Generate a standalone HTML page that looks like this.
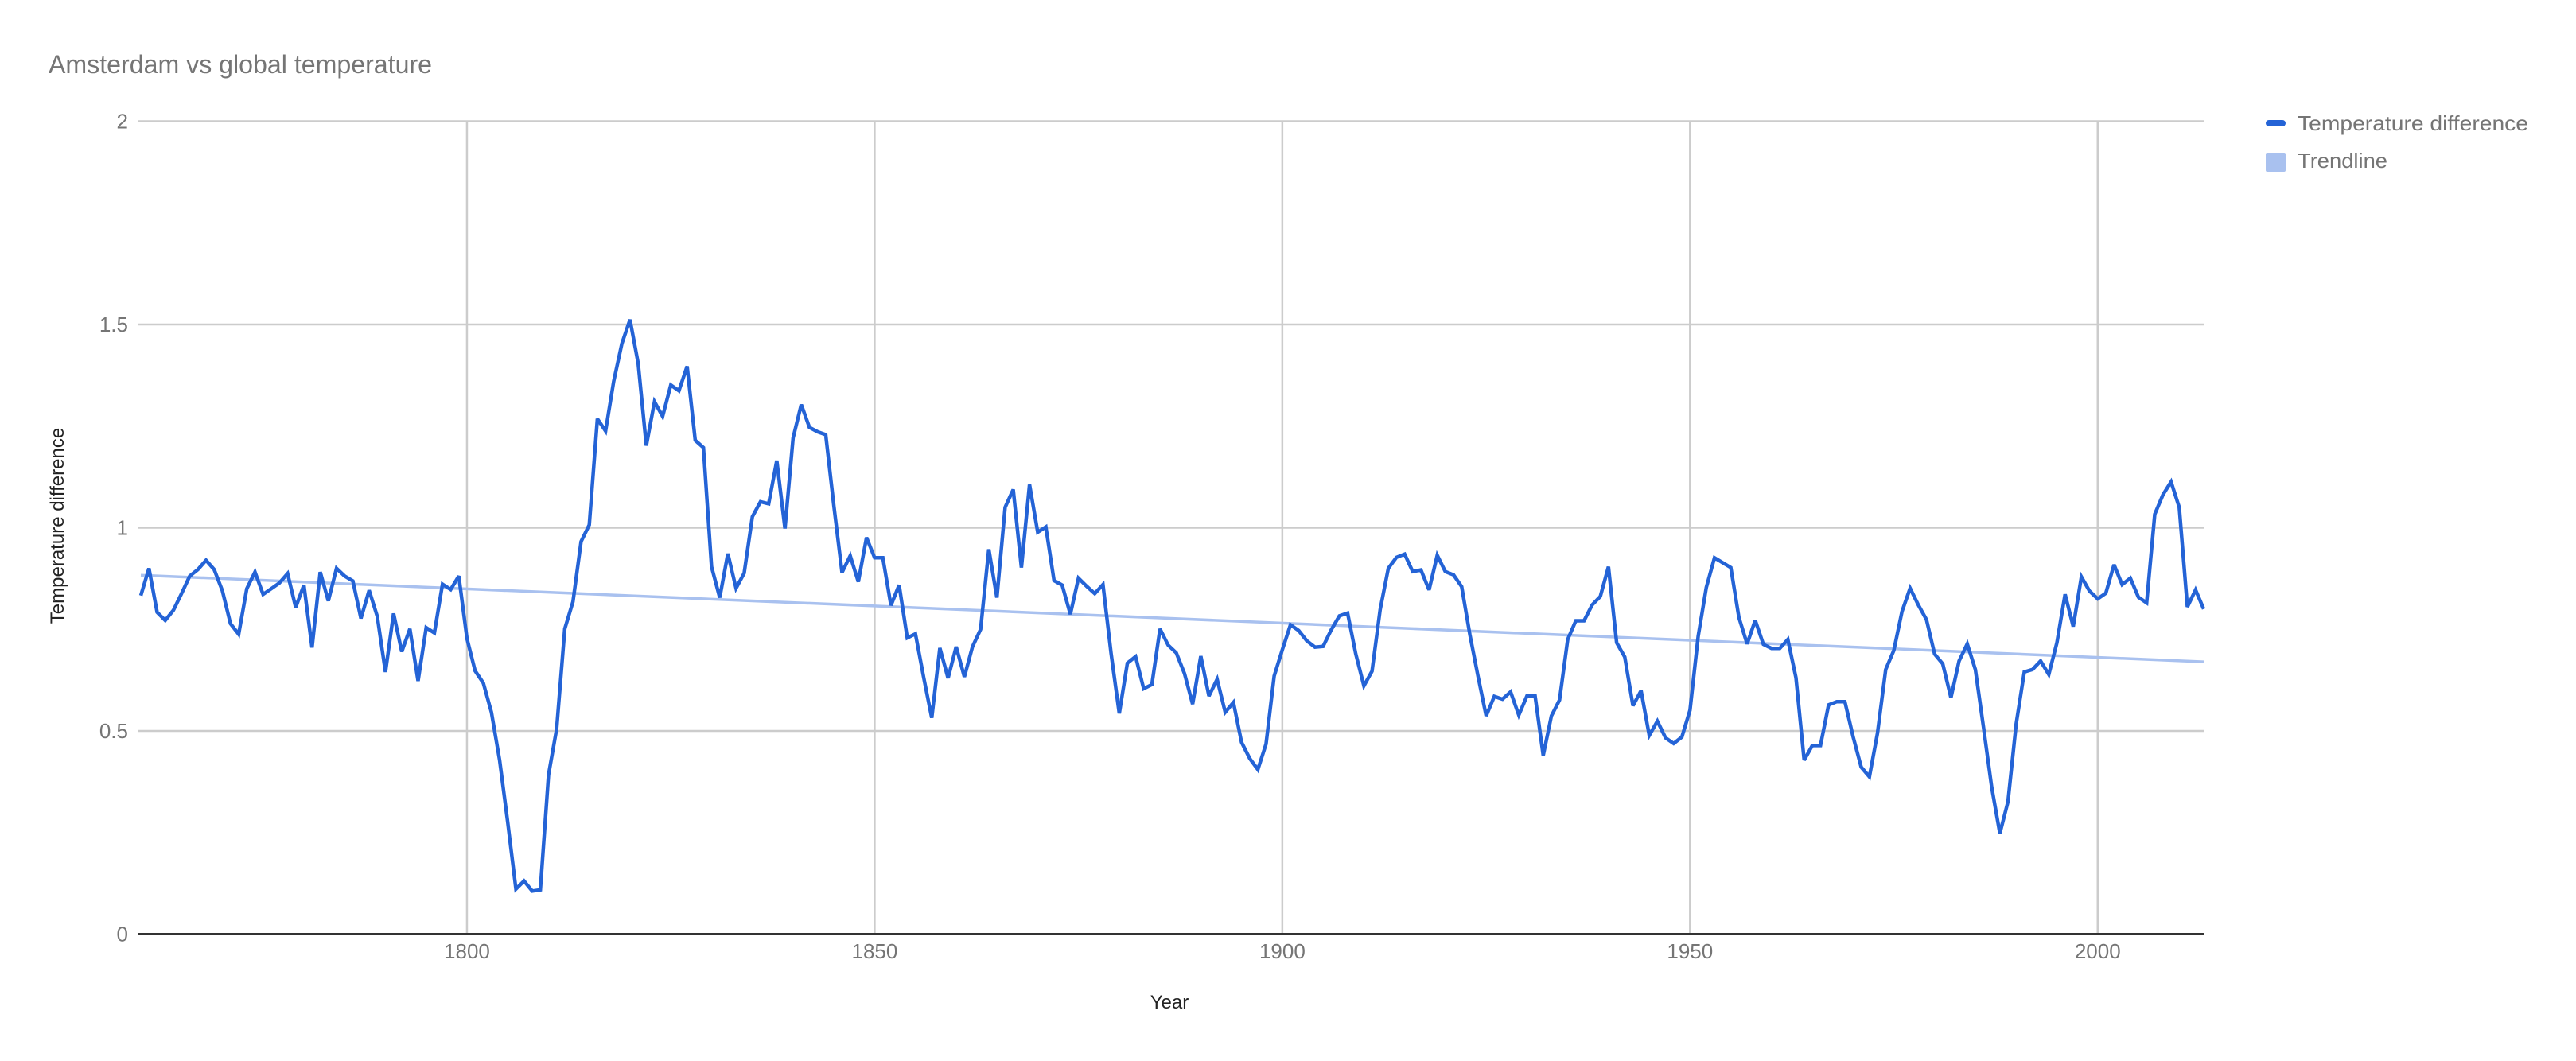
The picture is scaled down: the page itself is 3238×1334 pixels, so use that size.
<!DOCTYPE html>
<html><head><meta charset="utf-8"><title>Amsterdam vs global temperature</title>
<style>html,body{margin:0;padding:0;background:#fff}svg{display:block}text{font-family:"Liberation Sans",sans-serif}</style>
</head><body>
<svg id="chart" width="3238" height="1334" viewBox="0 0 3238 1334" xmlns="http://www.w3.org/2000/svg">
<rect x="0" y="0" width="3238" height="1334" fill="#fff"/>
<text x="61" y="92" font-size="32" fill="#757575" textLength="482" lengthAdjust="spacingAndGlyphs">Amsterdam vs global temperature</text>
<g id="grid"></g>
<g id="ylabels"></g>
<g id="xlabels"></g>
<g id="series"></g>
<text x="1470" y="1268" font-size="24" fill="#222" text-anchor="middle">Year</text>
<text transform="translate(80,661) rotate(-90)" font-size="24" fill="#222" text-anchor="middle">Temperature difference</text>
<g>
<g>
<rect x="2848" y="151" width="25" height="8" rx="4" fill="#2463d6"/>
<text x="2888" y="164" font-size="26" fill="#757575" textLength="290" lengthAdjust="spacingAndGlyphs">Temperature difference</text>
</g>
<g>
<rect x="2848" y="192" width="25" height="24" rx="2" fill="#a9c1ef"/>
<text x="2888" y="211" font-size="26" fill="#757575" textLength="113" lengthAdjust="spacingAndGlyphs">Trendline</text>
</g>
</g>
</svg>
<script>
const startYear = 1760;
const tempDiff = [
0.833,0.90,0.792,0.772,0.797,0.838,0.881,0.897,0.92,0.897,
0.845,0.764,0.738,0.85,0.891,0.836,0.85,0.864,0.887,0.804,
0.859,0.705,0.891,0.82,0.90,0.881,0.869,0.777,0.846,0.782,
0.645,0.789,0.695,0.751,0.623,0.754,0.741,0.861,0.848,0.881,
0.727,0.648,0.618,0.546,0.428,0.275,0.111,0.131,0.106,0.109,
0.392,0.505,0.751,0.818,0.966,1.007,1.268,1.238,1.36,1.453,
1.512,1.404,1.202,1.31,1.274,1.351,1.337,1.397,1.215,1.197,
0.904,0.828,0.936,0.851,0.888,1.027,1.064,1.059,1.165,0.998,
1.221,1.303,1.247,1.236,1.229,1.053,0.89,0.931,0.867,0.976,
0.926,0.926,0.809,0.859,0.729,0.739,0.633,0.532,0.704,0.63,
0.707,0.633,0.707,0.75,0.947,0.828,1.05,1.094,0.902,1.106,
0.989,1.002,0.87,0.859,0.787,0.876,0.856,0.838,0.86,0.691,
0.543,0.667,0.683,0.604,0.614,0.751,0.711,0.692,0.641,0.566,
0.684,0.586,0.627,0.546,0.57,0.472,0.432,0.405,0.468,0.635,
0.70,0.761,0.747,0.722,0.706,0.708,0.749,0.783,0.79,0.69,
0.611,0.647,0.798,0.90,0.927,0.935,0.892,0.896,0.847,0.932,
0.892,0.884,0.855,0.737,0.635,0.537,0.585,0.578,0.596,0.539,
0.586,0.586,0.44,0.537,0.576,0.725,0.771,0.771,0.81,0.831,
0.904,0.717,0.682,0.562,0.599,0.489,0.524,0.483,0.469,0.485,
0.551,0.733,0.853,0.926,0.914,0.902,0.779,0.714,0.772,0.713,
0.703,0.703,0.725,0.631,0.428,0.464,0.464,0.564,0.572,0.572,
0.486,0.411,0.387,0.495,0.651,0.698,0.794,0.851,0.81,0.774,
0.689,0.665,0.582,0.672,0.714,0.651,0.508,0.362,0.248,0.326,
0.517,0.645,0.651,0.672,0.639,0.717,0.836,0.757,0.879,0.844,
0.825,0.839,0.909,0.86,0.876,0.829,0.815,1.033,1.081,1.113,
1.05,0.805,0.847,0.80
];
const yTicks = [0, 0.5, 1, 1.5, 2];
const yTickLabels = ["0", "0.5", "1", "1.5", "2"];
const xTicks = [1800, 1850, 1900, 1950, 2000];
const xTickLabels = ["1800", "1850", "1900", "1950", "2000"];

const NS = "http://www.w3.org/2000/svg";
const PL = 177, PR = 2770, PT = 152.5, PB = 1174.5;
const endYear = startYear + tempDiff.length - 1;
function xs(yr){ return PL + (yr - startYear) / (endYear - startYear) * (PR - PL); }
function ys(v){ return PB - v / 2 * (PB - PT); }
function mk(tag, attrs, parent){
  const e = document.createElementNS(NS, tag);
  for (const k in attrs) e.setAttribute(k, attrs[k]);
  parent.appendChild(e);
  return e;
}
const grid = document.getElementById('grid');
const ylab = document.getElementById('ylabels');
const xlab = document.getElementById('xlabels');
const series = document.getElementById('series');

yTicks.forEach((t, i) => {
  if (t !== 0) {
    const g = mk('line', {x1: PL - 4, x2: PR, y1: ys(t), y2: ys(t), stroke: '#cccccc', 'stroke-width': 2.5}, grid);
    
    
  }
  const tx = mk('text', {x: 161, y: ys(t) + 9, 'font-size': 26, fill: '#757575', 'text-anchor': 'end'}, ylab);
  tx.textContent = yTickLabels[i];
  
  
});
xTicks.forEach((t, i) => {
  const g = mk('line', {x1: xs(t), x2: xs(t), y1: PT, y2: PB, stroke: '#cccccc', 'stroke-width': 2.5}, grid);
  
  
  const tx = mk('text', {x: xs(t), y: 1205, 'font-size': 26, fill: '#757575', 'text-anchor': 'middle'}, xlab);
  tx.textContent = xTickLabels[i];
  
  
});

// least squares trendline
let n = tempDiff.length, sx = 0, sy = 0, sxx = 0, sxy = 0;
tempDiff.forEach((v, i) => { const yr = startYear + i; sx += yr; sy += v; sxx += yr*yr; sxy += yr*v; });
const slope = (n*sxy - sx*sy) / (n*sxx - sx*sx);
const icpt = (sy - slope*sx) / n;
const trend = mk('line', {x1: xs(startYear), y1: ys(icpt + slope*startYear), x2: xs(endYear), y2: ys(icpt + slope*endYear), stroke: '#a9c1ef', 'stroke-width': 3.5}, series);



const pts = tempDiff.map((v, i) => xs(startYear + i).toFixed(1) + ',' + ys(v).toFixed(1)).join(' ');
const line = mk('polyline', {points: pts, fill: 'none', stroke: '#2463d6', 'stroke-width': 4.5, 'stroke-linejoin': 'miter', 'stroke-miterlimit': 3}, series);



const base = mk('line', {x1: PL - 4, x2: PR, y1: PB, y2: PB, stroke: '#333333', 'stroke-width': 3}, series);


</script>
</body></html>
